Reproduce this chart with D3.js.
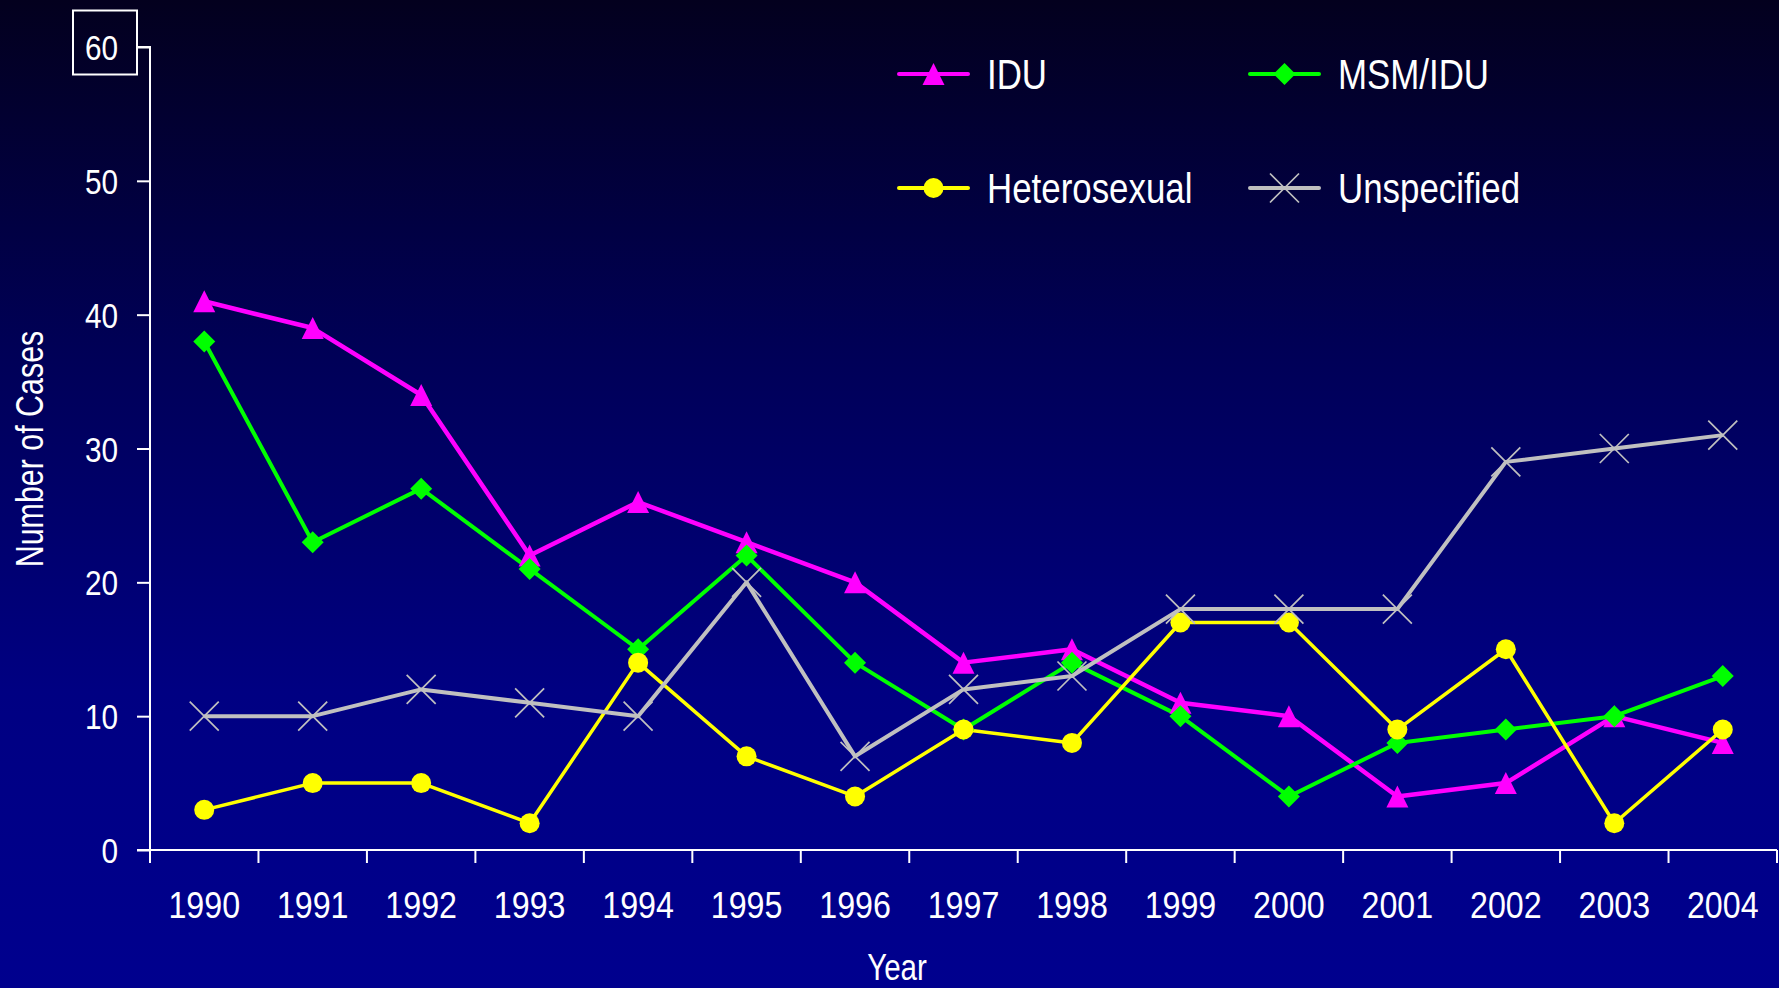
<!DOCTYPE html>
<html>
<head>
<meta charset="utf-8">
<script src="https://cdn.jsdelivr.net/npm/d3@7"></script>
<style>
  html, body { margin: 0; padding: 0; background: #000080; }
  svg { display: block; }
  text { font-family: "Liberation Sans Narrow", "Liberation Sans", Arial, sans-serif; fill: #fff; }
</style>
</head>
<body>
<div id="chart"></div>
<script>
var years = ["1990", "1991", "1992", "1993", "1994", "1995", "1996", "1997",
             "1998", "1999", "2000", "2001", "2002", "2003", "2004"];
var idu = [41, 39, 34, 22, 26, 23, 20, 14, 15, 11, 10, 4, 5, 10, 8];
var msmIdu = [38, 23, 27, 21, 15, 22, 14, 9, 14, 10, 4, 8, 9, 10, 13];
var hetero = [3, 5, 5, 2, 14, 7, 4, 9, 8, 17, 17, 9, 15, 2, 9];
var unspecified = [10, 10, 12, 11, 10, 20, 7, 12, 13, 18, 18, 18, 29, 30, 31];
var yTicks = [0, 10, 20, 30, 40, 50, 60];

var series = [
    { name: "IDU", values: idu, color: "#ff00ff", width: 4.5, marker: "triangle" },
    { name: "MSM/IDU", values: msmIdu, color: "#00ff00", width: 4, marker: "diamond" },
    { name: "Heterosexual", values: hetero, color: "#ffff00", width: 3.5, marker: "circle" },
    { name: "Unspecified", values: unspecified, color: "#c0c0c0", width: 4, marker: "cross" }
];

var width = 1779,
    height = 988,
    margin = { left: 150, right: 2, top: 47, bottom: 138 };

// squeeze text horizontally to get a condensed face
function condense(sel, factor) {
    sel.each(function() {
        var len = this.getComputedTextLength();
        d3.select(this)
            .attr("textLength", len * factor)
            .attr("lengthAdjust", "spacingAndGlyphs");
    });
}

var svg = d3.select("#chart").append("svg")
    .attr("width", width)
    .attr("height", height);

// background gradient
var grad = svg.append("defs").append("linearGradient")
    .attr("id", "bg")
    .attr("x1", 0).attr("y1", 0).attr("x2", 0).attr("y2", 1);
grad.append("stop").attr("offset", "0%").attr("stop-color", "#03001e");
grad.append("stop").attr("offset", "35%").attr("stop-color", "#000056");
grad.append("stop").attr("offset", "70%").attr("stop-color", "#000082");
grad.append("stop").attr("offset", "100%").attr("stop-color", "#00008e");
svg.append("rect").attr("width", width).attr("height", height).attr("fill", "url(#bg)");

var x = d3.scaleBand().domain(years).range([margin.left, width - margin.right]);
var y = d3.scaleLinear().domain([0, 60]).range([height - margin.bottom, margin.top]);

// y axis
var yAxis = svg.append("g")
    .attr("transform", "translate(" + margin.left + ",0)")
    .call(d3.axisLeft(y).tickValues(yTicks).tickSize(13).tickPadding(19));
yAxis.select(".domain").attr("stroke", "#fff").attr("stroke-width", 2).attr("d",
    "M-13," + y(60) + "H0V" + y(0));
yAxis.selectAll(".tick line").attr("stroke", "#fff").attr("stroke-width", 2);
yAxis.selectAll(".tick text")
    .style("font-size", "35px")
    .attr("dy", "0.36em")
    .call(condense, 0.85);

// box around the top label
var topTick = yAxis.selectAll(".tick").filter(function(d) { return d === 60; });
topTick.insert("rect", "text")
    .attr("x", -77).attr("y", -37)
    .attr("width", 64).attr("height", 64)
    .attr("fill", "none")
    .attr("stroke", "#fff")
    .attr("stroke-width", 2);

// x axis
var xAxis = svg.append("g")
    .attr("transform", "translate(0," + y(0) + ")")
    .call(d3.axisBottom(x).tickSize(0).tickPadding(0));
xAxis.select(".domain").attr("stroke", "#fff").attr("stroke-width", 2)
    .attr("d", "M" + (margin.left - 13) + ",0H" + (width - margin.right));
xAxis.selectAll(".tick text")
    .style("font-size", "37px")
    .attr("y", 68).attr("dy", 0)
    .call(condense, 0.87);

var edges = years.map(function(d) { return x(d); }).concat([x.range()[1]]);
xAxis.selectAll(".edge").data(edges).enter().append("line")
    .attr("class", "edge")
    .attr("x1", function(d) { return d; }).attr("x2", function(d) { return d; })
    .attr("y1", 0).attr("y2", 13)
    .attr("stroke", "#fff").attr("stroke-width", 2);

// axis titles
svg.append("text")
    .attr("transform", "translate(43," + 449 + ") rotate(-90)")
    .attr("text-anchor", "middle")
    .style("font-size", "38px")
    .text("Number of Cases")
    .call(condense, 0.8);

svg.append("text")
    .attr("x", 897)
    .attr("y", 980)
    .attr("text-anchor", "middle")
    .style("font-size", "36px")
    .text("Year")
    .call(condense, 0.82);

function drawMarker(g, type, color) {
    if (type === "triangle") {
        g.append("path").attr("d", "M0,-11L11,11L-11,11Z").attr("fill", color);
    } else if (type === "diamond") {
        g.append("path").attr("d", "M0,-11L11,0L0,11L-11,0Z").attr("fill", color);
    } else if (type === "circle") {
        g.append("circle").attr("r", 10).attr("fill", color);
    } else {
        var s = 14.5;
        g.append("path")
            .attr("d", "M" + -s + "," + -s + "L" + s + "," + s + "M" + -s + "," + s + "L" + s + "," + -s)
            .attr("stroke", color).attr("stroke-width", 1.7).attr("fill", "none");
    }
}

var cx = function(d, i) { return x(years[i]) + x.bandwidth() / 2; };
var line = d3.line().x(cx).y(function(d) { return y(d); });

var plot = svg.append("g").attr("class", "plot");

series.forEach(function(s) {
    plot.append("path")
        .datum(s.values)
        .attr("d", line)
        .attr("fill", "none")
        .attr("stroke", s.color)
        .attr("stroke-width", s.width)
        .attr("stroke-linejoin", "round");
});

series.forEach(function(s) {
    plot.selectAll(".m-" + s.marker).data(s.values).enter().append("g")
        .attr("class", "m-" + s.marker)
        .attr("transform", function(d, i) { return "translate(" + cx(d, i) + "," + y(d) + ")"; })
        .each(function() { drawMarker(d3.select(this), s.marker, s.color); });
});

// legend
var legendPos = [[899, 74], [1250, 74], [899, 188], [1250, 188]];
var legend = svg.selectAll(".legend").data(series).enter().append("g")
    .attr("class", "legend")
    .attr("transform", function(d, i) { return "translate(" + legendPos[i][0] + "," + legendPos[i][1] + ")"; });

legend.append("line")
    .attr("x1", 0).attr("x2", 69)
    .attr("stroke", function(d) { return d.color; })
    .attr("stroke-width", 4)
    .attr("stroke-linecap", "round");

legend.append("g")
    .attr("transform", "translate(34.5,0)")
    .each(function(d) { drawMarker(d3.select(this), d.marker, d.color); });

legend.append("text")
    .attr("x", 88)
    .attr("y", 15)
    .style("font-size", "42px")
    .text(function(d) { return d.name; })
    .call(condense, 0.83);
</script>
</body>
</html>
